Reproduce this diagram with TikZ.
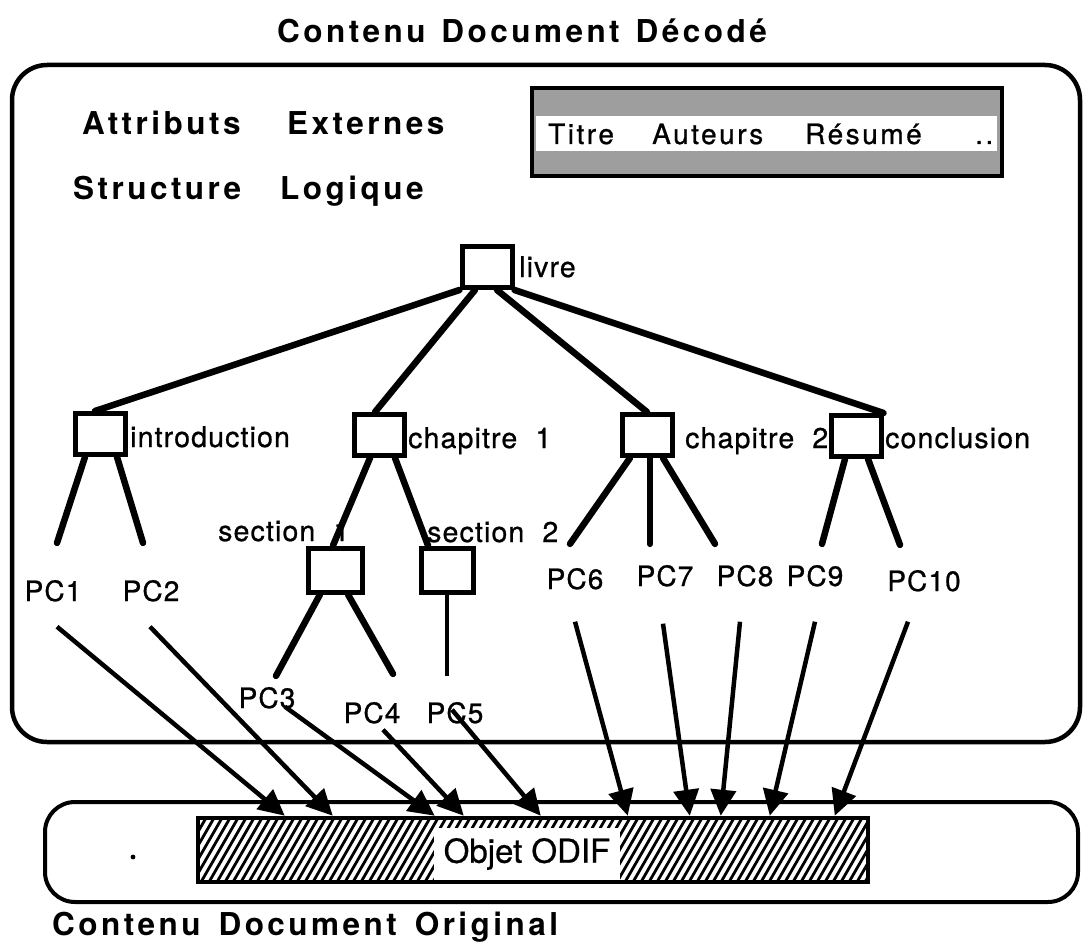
\documentclass[tikz,border=0pt]{standalone}
\usepackage{fontspec}
\setmainfont{TeX Gyre Heros}
\newfontfamily\headfont[LetterSpace=11]{TeX Gyre Heros}
\newfontfamily\labelfont[LetterSpace=4,FakeBold=0.8]{TeX Gyre Heros}
\newfontfamily\stripfont[LetterSpace=9,FakeBold=0.8]{TeX Gyre Heros}
\newfontfamily\odiffont[FakeBold=0.6]{TeX Gyre Heros}
\usetikzlibrary{arrows.meta}

\tikzset{
  heading/.style={font=\headfont\bfseries\fontsize{31.5}{36}\selectfont, anchor=base west, inner sep=0pt},
  lab/.style={font=\labelfont\fontsize{28.5}{32}\selectfont, anchor=base west, inner sep=0pt},
  pclab/.style={font=\labelfont\fontsize{28}{32}\selectfont, anchor=base, inner sep=0pt},
  striptext/.style={font=\stripfont\fontsize{28}{32}\selectfont, anchor=base west, inner sep=0pt},
  elt/.style={draw, line width=5pt, minimum width=50pt, minimum height=41pt, inner sep=0pt},
  branch/.style={line width=6.5pt, line cap=round},
  link/.style={line width=4.5pt, -{Triangle[length=26pt,width=25pt]}},
  frame/.style={line width=4.5pt, rounded corners=35pt},
}

\begin{document}
\begin{tikzpicture}[x=1pt,y=-1pt]
\useasboundingbox (0,0) rectangle (1084,952);

% ---- headings ----
\node[heading, anchor=base] (ttop) at (522,43) {Contenu\hspace{16pt}Document\hspace{16pt}Décodé};
\node[heading] (attr) at (82,135) {Attributs};
\node[heading] (ext) at (287,135) {Externes};
\node[heading] (struct) at (73,200) {Structure};
\node[heading] (logi) at (280,200) {Logique};
\node[heading] (tbot) at (52,935) {Contenu\hspace{18pt}Document\hspace{18pt}Original};

% ---- frames ----
\draw[frame] (12,65) rectangle (1080,742);
\draw[line width=4pt, rounded corners=30pt] (45,802) rectangle (1078,902);
\fill (133,857) circle (2.4pt);

% ---- external attributes box ----
\node[draw, line width=4.5pt, fill=black!38, minimum width=470pt, minimum height=88pt, inner sep=0pt] (attrbox) at (767,132) {};
\fill[white] (536,116) rectangle (997,151);
\node[striptext] (titre) at (548,144) {Titre};
\node[striptext] (auteurs) at (652,144) {Auteurs};
\node[striptext] (resume) at (805,144) {Résumé};
\node[striptext] (dots) at (975,144) {..};

% ---- logical structure ----
\node[elt] (livre) at (487,267) {};
\node[lab] (llivre) at (519,277) {livre};

\node[elt] (intro) at (100,434) {};
\node[elt] (ch1) at (379,435) {};
\node[elt] (ch2) at (647,435) {};
\node[elt] (concl) at (856,436) {};
\node[lab] (lintro) at (130,447) {introduction};
\node[lab] (lch1) at (408,448) {chapitre\ \ 1};
\node[lab] (lch2) at (685,448) {chapitre\ \ 2};
\node[lab] (lconcl) at (885,448) {conclusion};

\node[elt, minimum width=54pt, minimum height=44pt] (sec1) at (335,570) {};
\node[elt, minimum width=52pt, minimum height=44pt] (sec2) at (447,570) {};
\node[lab] (lsec1) at (218,541) {section\ \ 1};
\node[lab] (lsec2) at (427,542) {section\ \ 2};

\node[pclab] (pc1) at (53,601) {PC1};
\node[pclab] (pc2) at (151,601) {PC2};
\node[pclab] (pc3) at (267,708) {PC3};
\node[pclab] (pc4) at (372,723) {PC4};
\node[pclab] (pc5) at (455,723) {PC5};
\node[pclab] (pc6) at (575,589) {PC6};
\node[pclab] (pc7) at (665,586) {PC7};
\node[pclab] (pc8) at (745,586) {PC8};
\node[pclab] (pc9) at (815,586) {PC9};
\node[pclab] (pc10) at (924,591) {PC10};

% tree branches
\draw[branch] (livre.south west) -- ([xshift=-5pt]intro.north);
\draw[branch] ([xshift=-12pt]livre.south) -- ([xshift=-4pt]ch1.north);
\draw[branch] ([xshift=10pt]livre.south) -- (ch2.north);
\draw[branch] (livre.south east) -- (concl.north east);

\draw[branch] ([xshift=-15pt]intro.south) -- ([xshift=4pt,yshift=37pt]pc1.north);
\draw[branch] ([xshift=17pt]intro.south) -- ([xshift=-8pt,yshift=37pt]pc2.north);

\draw[branch] ([xshift=-9pt]ch1.south) -- ([xshift=-2pt]sec1.north);
\draw[branch] ([xshift=16pt]ch1.south) -- ([xshift=-19pt]sec2.north);

\draw[branch] ([xshift=-15pt]sec1.south) -- ([xshift=9pt,yshift=11pt]pc3.north);
\draw[branch] ([xshift=13pt]sec1.south) -- ([xshift=21pt,yshift=28pt]pc4.north);
\draw[line width=4.5pt] (sec2.south) -- ([xshift=-8pt,yshift=26pt]pc5.north);

\draw[branch] ([xshift=-17pt]ch2.south) -- ([xshift=-5pt,yshift=24pt]pc6.north);
\draw[branch] ([xshift=3pt]ch2.south) -- ([xshift=-15pt,yshift=21pt]pc7.north);
\draw[branch] ([xshift=16pt]ch2.south) -- ([xshift=-30pt,yshift=21pt]pc8.north);

\draw[branch] ([xshift=-11pt]concl.south) -- ([xshift=7pt,yshift=21pt]pc9.north);
\draw[branch] ([xshift=12pt]concl.south) -- ([xshift=-24pt,yshift=25pt]pc10.north);

% ---- ODIF object ----
\begin{scope}
  \clip (198,818) rectangle (868,882);
  \foreach \i in {0,...,90}
    \draw[line width=2.8pt] ({161+\i*8},882) -- ++(37,-64);
\end{scope}
\node[fill=white, minimum width=186pt, minimum height=52pt, inner sep=0pt,
      font=\odiffont\fontsize{33}{36}\selectfont] (lodif) at (527,854) {Objet ODIF};
\node[draw, line width=4.5pt, minimum width=670pt, minimum height=64pt, inner sep=0pt] (odif) at (533,850) {};

% ---- links to the ODIF object ----
\draw[link] ([xshift=4pt,yshift=-25pt]pc1.south) -- ([xshift=89pt]odif.north west);
\draw[link] ([xshift=-1pt,yshift=-25pt]pc2.south) -- ([xshift=137pt]odif.north west);
\draw[link] ([xshift=18pt,yshift=2pt]pc3.south) -- ([xshift=239pt]odif.north west);
\draw[link] ([xshift=11pt,yshift=-6pt]pc4.south) -- ([xshift=268pt]odif.north west);
\draw[link] ([xshift=-3pt,yshift=14pt]pc5.south) -- ([xshift=345pt]odif.north west);
\draw[link] ([yshift=-32pt]pc6.south) -- ([xshift=432pt]odif.north west);
\draw[link] ([xshift=-2pt,yshift=-37pt]pc7.south) -- ([xshift=494pt]odif.north west);
\draw[link] ([xshift=-5pt,yshift=-35pt]pc8.south) -- ([xshift=525pt]odif.north west);
\draw[link] ([yshift=-35pt]pc9.south) -- ([xshift=574pt]odif.north west);
\draw[link] ([xshift=-16pt,yshift=-30pt]pc10.south) -- ([xshift=639pt]odif.north west);
\end{tikzpicture}
\end{document}
